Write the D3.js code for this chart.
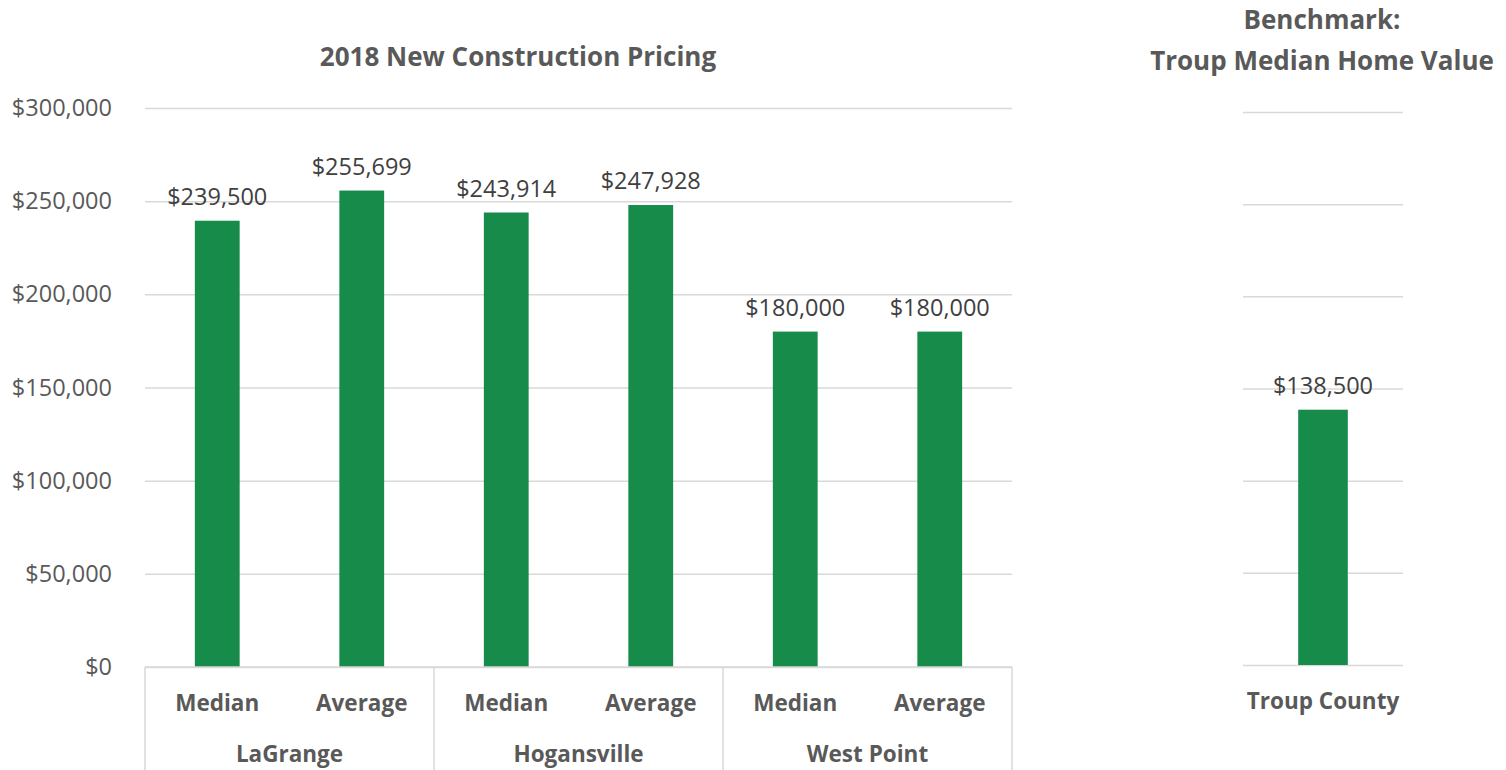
<!DOCTYPE html>
<html>
<head>
<meta charset="utf-8">
<script src="https://cdn.jsdelivr.net/npm/d3@7"></script>
<style>
  html, body { margin: 0; padding: 0; background: #fff; }
  svg text { font-family: "Open Sans", "Noto Sans", sans-serif; }
</style>
</head>
<body>
<svg id="chart" width="1506" height="770"></svg>
<script>
// New construction pricing, by city and statistic
const cities = ["LaGrange", "Hogansville", "West Point"];
const stats = ["Median", "Average"];
const prices = [239500, 255699, 243914, 247928, 180000, 180000];

// Benchmark
const benchCategories = ["Troup County"];
const benchValues = [138500];

const yTicks = [0, 50000, 100000, 150000, 200000, 250000, 300000];

const GREEN = "#168b4a";
const GRID = "#d9d9d9";
const AXIS_TEXT = "#595959";
const LABEL_TEXT = "#404040";
const NUM_SIZE = 23.5;
const CAT_SIZE = 22.5;
const TITLE_SIZE = 26;

const fmt = d3.format("$,");
const svg = d3.select("#chart");

// ---- Main chart ----
const main = { left: 145, right: 1012, top: 108, bottom: 667 };
const rows = [];
cities.forEach((c, i) => stats.forEach((s, j) => rows.push({ city: c, stat: s, value: prices[i * stats.length + j], key: c + "|" + s })));

const x = d3.scaleBand().domain(rows.map(r => r.key)).range([main.left, main.right]).paddingInner(0.69).paddingOuter(0.345);
const y = d3.scaleLinear().domain([0, 300000]).range([main.bottom, main.top]);

svg.append("text")
  .attr("x", 518).attr("y", 66)
  .attr("text-anchor", "middle").attr("font-size", TITLE_SIZE).attr("font-weight", "bold")
  .attr("fill", AXIS_TEXT).text("2018 New Construction Pricing");

// gridlines + tick labels
const yAxis = d3.axisLeft(y).tickValues(yTicks).tickFormat(fmt).tickSize(-(main.right - main.left)).tickPadding(33);
const gy = svg.append("g").attr("transform", `translate(${main.left},0)`).call(yAxis);
gy.select(".domain").remove();
gy.selectAll(".tick line").attr("stroke", GRID).attr("stroke-width", 1.5);
gy.selectAll(".tick text").attr("fill", AXIS_TEXT).attr("font-size", NUM_SIZE).attr("font-family", "'Open Sans', sans-serif");

// bars
svg.append("g").selectAll("rect").data(rows).join("rect")
  .attr("x", d => x(d.key)).attr("width", x.bandwidth())
  .attr("y", d => y(d.value)).attr("height", d => y(0) - y(d.value))
  .attr("fill", GREEN);

// value labels
svg.append("g").selectAll("text").data(rows).join("text")
  .attr("x", d => x(d.key) + x.bandwidth() / 2).attr("y", d => y(d.value) - 16)
  .attr("text-anchor", "middle").attr("font-size", NUM_SIZE).attr("fill", LABEL_TEXT)
  .text(d => fmt(d.value));

// multi-level category axis
const step = x.step();
const groupWidth = step * stats.length;
const catAxis = svg.append("g");
catAxis.append("line").attr("x1", main.left).attr("x2", main.right)
  .attr("y1", main.bottom).attr("y2", main.bottom).attr("stroke", GRID).attr("stroke-width", 1.5);
d3.range(cities.length + 1).forEach(i => {
  const gx = main.left + i * groupWidth;
  catAxis.append("line").attr("x1", gx).attr("x2", gx).attr("y1", main.bottom).attr("y2", 770)
    .attr("stroke", GRID).attr("stroke-width", 1.5);
});
catAxis.selectAll("text.stat").data(rows).join("text").attr("class", "stat")
  .attr("x", d => x(d.key) + x.bandwidth() / 2).attr("y", 711)
  .attr("text-anchor", "middle").attr("font-size", CAT_SIZE).attr("font-weight", "bold")
  .attr("fill", AXIS_TEXT).text(d => d.stat);
catAxis.selectAll("text.city").data(cities).join("text").attr("class", "city")
  .attr("x", (d, i) => main.left + (i + 0.5) * groupWidth).attr("y", 762)
  .attr("text-anchor", "middle").attr("font-size", CAT_SIZE).attr("font-weight", "bold")
  .attr("fill", AXIS_TEXT).text(d => d);

// ---- Benchmark chart ----
const bench = { left: 1243, right: 1403, top: 112, bottom: 665 };
const xb = d3.scaleBand().domain(benchCategories).range([bench.left, bench.right]).paddingInner(0.69).paddingOuter(0.345);
const yb = d3.scaleLinear().domain([0, 300000]).range([bench.bottom, bench.top]);

svg.append("text").attr("x", 1322).attr("y", 29).attr("text-anchor", "middle")
  .attr("font-size", TITLE_SIZE).attr("font-weight", "bold").attr("fill", AXIS_TEXT).text("Benchmark:");
svg.append("text").attr("x", 1322).attr("y", 70).attr("text-anchor", "middle")
  .attr("font-size", TITLE_SIZE).attr("font-weight", "bold").attr("fill", AXIS_TEXT).text("Troup Median Home Value");

const gb = svg.append("g").attr("transform", `translate(${bench.left},0)`)
  .call(d3.axisLeft(yb).tickValues(yTicks).tickFormat("").tickSize(-(bench.right - bench.left)));
gb.select(".domain").remove();
gb.selectAll(".tick line").attr("stroke", GRID).attr("stroke-width", 1.5);

svg.append("g").selectAll("rect").data(benchValues).join("rect")
  .attr("x", (d, i) => xb(benchCategories[i])).attr("width", xb.bandwidth())
  .attr("y", d => yb(d)).attr("height", d => yb(0) - yb(d)).attr("fill", GREEN);
svg.append("g").selectAll("text").data(benchValues).join("text")
  .attr("x", (d, i) => xb(benchCategories[i]) + xb.bandwidth() / 2).attr("y", d => yb(d) - 16)
  .attr("text-anchor", "middle").attr("font-size", NUM_SIZE).attr("fill", LABEL_TEXT).text(d => fmt(d));
svg.append("g").selectAll("text").data(benchCategories).join("text")
  .attr("x", d => xb(d) + xb.bandwidth() / 2).attr("y", 709)
  .attr("text-anchor", "middle").attr("font-size", CAT_SIZE).attr("font-weight", "bold")
  .attr("fill", AXIS_TEXT).text(d => d);
</script>
</body>
</html>
